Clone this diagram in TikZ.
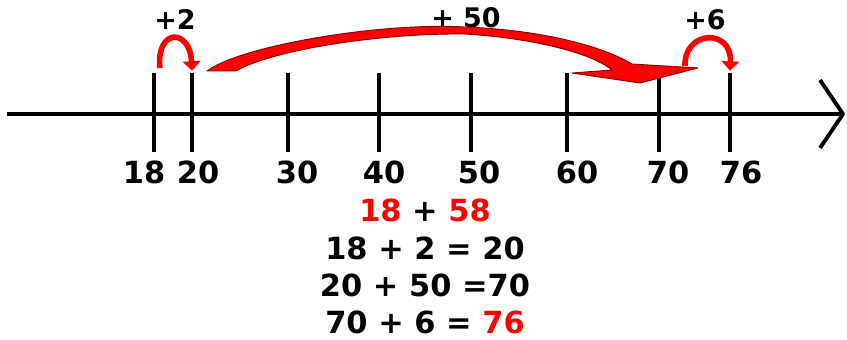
\documentclass[tikz,border=0pt]{standalone}
\usepackage{fontspec}
\setmainfont{DejaVu Sans}
\usetikzlibrary{arrows.meta}

\begin{document}
\begin{tikzpicture}[x=0.03cm, y=-0.03cm, line join=round]

% ---------- styles ----------
\tikzset{
  nlAxis/.style ={draw, line width=3.3pt},
  nlTick/.style ={draw, line width=3.8pt},
  nlNum/.style  ={font=\fontsize{26}{30}\selectfont\bfseries, inner sep=0pt},
  nlStep/.style ={font=\fontsize{23}{27}\selectfont\bfseries, inner sep=0pt},
  nlHop/.style  ={draw=red, line width=4.8pt, -{Triangle[width=15pt,length=8pt]}},
  nlJump/.style ={fill=red, draw=red!55!black, line width=0.8pt}
}

\useasboundingbox (0,0) rectangle (847,340);

% ---------- number line ----------
\coordinate (axisL) at (7,114);
\coordinate (axisR) at (843,114);
\draw[nlAxis] (axisL) -- (axisR);
\draw[nlAxis] (820,80) -- (axisR) -- (820,148);

% ticks with their numbers
\foreach \v/\x/\lx in {18/154/144, 20/192/198, 30/288/297, 40/379/384,
                       50/471/479, 60/567/577, 70/659/668, 76/730/741}{
  \coordinate (top\v) at (\x,73);
  \coordinate (bot\v) at (\x,152);
  \draw[nlTick] (top\v) -- (bot\v);
  \node[nlNum] (lab\v) at (\lx,172) {\v};
}

% ---------- jumps ----------
\node[nlStep] (stepA) at (175,20) {+2};
\node[nlStep] (stepB) at (466,18) {+ 50};
\node[nlStep] (stepC) at (705,20) {+6};

\draw[nlHop] ([xshift=5]top18) ++(0,-5) .. controls (156,28) and (190,28) .. ([yshift=2]top20);
\draw[nlHop] (685,66) .. controls (684,30) and (732,28) .. ([yshift=2]top76);

% big jump from 20 to 70 (hand drawn swoosh)
\path[nlJump]
  (207,71) .. controls (240,46) and (380,22) .. (465,27)
           .. controls (540,30) and (600,45) .. (632,64)
  -- (698,68) -- (640,83) -- (572,73) -- (612,70)
           .. controls (590,52) and (530,38) .. (465,34)
           .. controls (380,33) and (272,50) .. (236,71) -- cycle;

% ---------- sums ----------
\node[nlNum] (eqA) at (425,210) {\textcolor{red}{18} + \textcolor{red}{58}};
\node[nlNum] (eqB) at (425,248) {18 + 2 = 20};
\node[nlNum] (eqC) at (425,285) {20 + 50 =70};
\node[nlNum] (eqD) at (425,322) {70 + 6 = \textcolor{red}{76}};

\end{tikzpicture}
\end{document}
